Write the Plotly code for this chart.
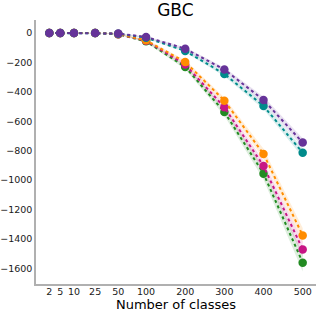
import plotly.graph_objects as go

# Data
tick_labels = ["2", "5", "10", "25", "50", "100", "200", "300", "400", "500"]
x_pos = [-2.47, -2.19, -1.84, -1.30, -0.71, 0.0, 1.0, 2.0, 3.0, 4.0]

series_names = ["green", "magenta", "orange", "teal", "purple"]
series_colors = ["#228b22", "#c71585", "#ff8c00", "#008b8b", "#663399"]
series_fill = ["rgba(34,139,34,0.15)", "rgba(199,21,133,0.15)", "rgba(255,140,0,0.15)",
               "rgba(0,139,139,0.15)", "rgba(102,51,153,0.15)"]

green = [0, 0, 0, 0, -9, -57, -231, -537, -956, -1561]
magenta = [0, 0, 0, 0, -8, -53, -215, -505, -904, -1471]
orange = [0, 0, 0, 0, -7, -50, -197, -460, -822, -1376]
teal = [0, 0, 0, 0, -5, -32, -122, -279, -496, -814]
purple = [0, 0, 0, 0, -4, -27, -107, -249, -455, -745]

green_err = [0, 0, 0, 1, 3, 8, 15, 25, 40, 60]
magenta_err = [0, 0, 0, 1, 3, 7, 13, 22, 35, 50]
orange_err = [0, 0, 0, 1, 3, 7, 13, 22, 35, 50]
teal_err = [0, 0, 0, 1, 2, 5, 9, 15, 22, 30]
purple_err = [0, 0, 0, 1, 2, 5, 9, 15, 22, 30]

values = [green, magenta, orange, teal, purple]
errors = [green_err, magenta_err, orange_err, teal_err, purple_err]

y_ticks = [0, -200, -400, -600, -800, -1000, -1200, -1400, -1600]
y_tick_text = ["0", "\u2212200", "\u2212400", "\u2212600", "\u2212800", "\u22121000",
               "\u22121200", "\u22121400", "\u22121600"]

fig = go.Figure()

for name, col, fc, v, e in zip(series_names, series_colors, series_fill, values, errors):
    upper = [a + b for a, b in zip(v, e)]
    lower = [a - b for a, b in zip(v, e)]
    fig.add_trace(go.Scatter(x=x_pos, y=upper, mode="lines", line=dict(width=0),
                             showlegend=False, hoverinfo="skip"))
    fig.add_trace(go.Scatter(x=x_pos, y=lower, mode="lines", line=dict(width=0),
                             fill="tonexty", fillcolor=fc, showlegend=False, hoverinfo="skip"))

for name, col, v in zip(series_names, series_colors, values):
    fig.add_trace(go.Scatter(x=x_pos, y=v, mode="lines+markers", name=name,
                             line=dict(color=col, width=2, dash="dot"),
                             marker=dict(color=col, size=8.5), showlegend=False,
                             cliponaxis=False))

fig.update_layout(
    width=316, height=314,
    margin=dict(l=36, r=0, t=20, b=30, autoexpand=False),
    paper_bgcolor="white", plot_bgcolor="white",
    font=dict(family="DejaVu Sans", color="#262626"),
    title=dict(text="GBC", x=0.555, xanchor="center", yref="container",
               y=0.968, yanchor="middle", pad=dict(t=0, b=0),
               font=dict(size=17, color="black")),
    showlegend=False,
)
fig.update_xaxes(range=[-2.81, 4.34], tickvals=x_pos, ticktext=tick_labels,
                 tickfont=dict(size=9.5, color="#1a1a1a"), showgrid=False, zeroline=False,
                 showline=True, linecolor="#b0b0b0", linewidth=1.5, ticks="",
                 ticklabelstandoff=-2, automargin=False,
                 title=dict(text="Number of classes", font=dict(size=13, color="black"),
                            standoff=4))
fig.update_yaxes(range=[-1706, 88], tickvals=y_ticks, ticktext=y_tick_text,
                 tickfont=dict(size=9.5, color="#1a1a1a"), showgrid=False, zeroline=False,
                 showline=True, linecolor="#b0b0b0", linewidth=1.5, ticks="",
                 automargin=False)

fig.write_html("out.html", config={"displayModeBar": False},
               post_script="document.body.style.margin='0';document.body.style.overflow='hidden';")
